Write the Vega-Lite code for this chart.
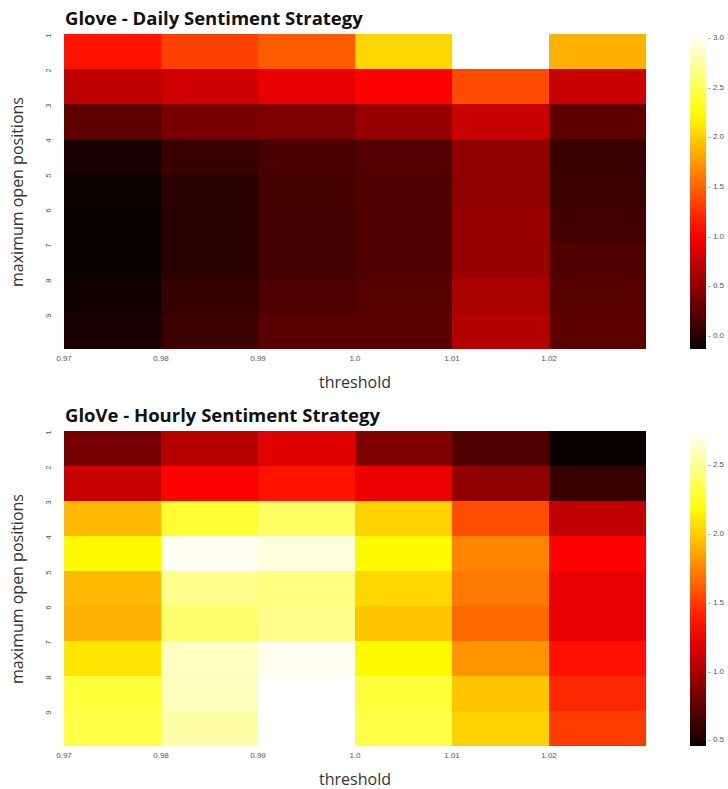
{
  "$schema": "https://vega.github.io/schema/vega-lite/v6.json",
  "background": "white",
  "padding": {"left": 9, "top": 10, "right": 5, "bottom": 3},
  "spacing": 17,
  "config": {
    "view": {"stroke": null},
    "axis": {
      "domain": false,
      "ticks": false,
      "grid": false,
      "labelFont": "Liberation Sans",
      "labelFontSize": 8,
      "labelColor": "#555555",
      "titleFont": "Open Sans",
      "titleFontSize": 16,
      "titleFontWeight": "normal",
      "titleColor": "#333333"
    },
    "legend": {
      "labelFont": "Liberation Sans",
      "labelFontSize": 8,
      "labelColor": "#555555"
    },
    "title": {
      "font": "Open Sans",
      "fontSize": 18.5,
      "fontWeight": "bold",
      "color": "#111111",
      "anchor": "start",
      "frame": "group",
      "offset": 4
    }
  },
  "datasets": {
    "daily": [
      {"threshold": "0.97", "positions": "1", "value": 1.11}, {"threshold": "0.98", "positions": "1", "value": 1.33}, {"threshold": "0.99", "positions": "1", "value": 1.46}, {"threshold": "1.0", "positions": "1", "value": 2.04}, {"threshold": "1.01", "positions": "1", "value": 3.04}, {"threshold": "1.02", "positions": "1", "value": 1.86},
      {"threshold": "0.97", "positions": "2", "value": 0.72}, {"threshold": "0.98", "positions": "2", "value": 0.8}, {"threshold": "0.99", "positions": "2", "value": 0.91}, {"threshold": "1.0", "positions": "2", "value": 1.03}, {"threshold": "1.01", "positions": "2", "value": 1.38}, {"threshold": "1.02", "positions": "2", "value": 0.77},
      {"threshold": "0.97", "positions": "3", "value": 0.27}, {"threshold": "0.98", "positions": "3", "value": 0.39}, {"threshold": "0.99", "positions": "3", "value": 0.42}, {"threshold": "1.0", "positions": "3", "value": 0.54}, {"threshold": "1.01", "positions": "3", "value": 0.77}, {"threshold": "1.02", "positions": "3", "value": 0.27},
      {"threshold": "0.97", "positions": "4", "value": -0.06}, {"threshold": "0.98", "positions": "4", "value": 0.09}, {"threshold": "0.99", "positions": "4", "value": 0.17}, {"threshold": "1.0", "positions": "4", "value": 0.21}, {"threshold": "1.01", "positions": "4", "value": 0.5}, {"threshold": "1.02", "positions": "4", "value": 0.09},
      {"threshold": "0.97", "positions": "5", "value": -0.12}, {"threshold": "0.98", "positions": "5", "value": 0.02}, {"threshold": "0.99", "positions": "5", "value": 0.15}, {"threshold": "1.0", "positions": "5", "value": 0.2}, {"threshold": "1.01", "positions": "5", "value": 0.48}, {"threshold": "1.02", "positions": "5", "value": 0.1},
      {"threshold": "0.97", "positions": "6", "value": -0.13}, {"threshold": "0.98", "positions": "6", "value": 0.02}, {"threshold": "0.99", "positions": "6", "value": 0.14}, {"threshold": "1.0", "positions": "6", "value": 0.2}, {"threshold": "1.01", "positions": "6", "value": 0.54}, {"threshold": "1.02", "positions": "6", "value": 0.13},
      {"threshold": "0.97", "positions": "7", "value": -0.13}, {"threshold": "0.98", "positions": "7", "value": 0.02}, {"threshold": "0.99", "positions": "7", "value": 0.14}, {"threshold": "1.0", "positions": "7", "value": 0.2}, {"threshold": "1.01", "positions": "7", "value": 0.54}, {"threshold": "1.02", "positions": "7", "value": 0.2},
      {"threshold": "0.97", "positions": "8", "value": -0.1}, {"threshold": "0.98", "positions": "8", "value": 0.07}, {"threshold": "0.99", "positions": "8", "value": 0.19}, {"threshold": "1.0", "positions": "8", "value": 0.23}, {"threshold": "1.01", "positions": "8", "value": 0.62}, {"threshold": "1.02", "positions": "8", "value": 0.23},
      {"threshold": "0.97", "positions": "9", "value": -0.07}, {"threshold": "0.98", "positions": "9", "value": 0.1}, {"threshold": "0.99", "positions": "9", "value": 0.25}, {"threshold": "1.0", "positions": "9", "value": 0.25}, {"threshold": "1.01", "positions": "9", "value": 0.67}, {"threshold": "1.02", "positions": "9", "value": 0.26}
    ],
    "hourly": [
      {"threshold": "0.97", "positions": "1", "value": 0.83}, {"threshold": "0.98", "positions": "1", "value": 1.05}, {"threshold": "0.99", "positions": "1", "value": 1.19}, {"threshold": "1.0", "positions": "1", "value": 0.86}, {"threshold": "1.01", "positions": "1", "value": 0.7}, {"threshold": "1.02", "positions": "1", "value": 0.46},
      {"threshold": "0.97", "positions": "2", "value": 1.11}, {"threshold": "0.98", "positions": "2", "value": 1.3}, {"threshold": "0.99", "positions": "2", "value": 1.36}, {"threshold": "1.0", "positions": "2", "value": 1.23}, {"threshold": "1.01", "positions": "2", "value": 0.92}, {"threshold": "1.02", "positions": "2", "value": 0.62},
      {"threshold": "0.97", "positions": "3", "value": 1.93}, {"threshold": "0.98", "positions": "3", "value": 2.28}, {"threshold": "0.99", "positions": "3", "value": 2.39}, {"threshold": "1.0", "positions": "3", "value": 2.01}, {"threshold": "1.01", "positions": "3", "value": 1.56}, {"threshold": "1.02", "positions": "3", "value": 1.08},
      {"threshold": "0.97", "positions": "4", "value": 2.15}, {"threshold": "0.98", "positions": "4", "value": 2.72}, {"threshold": "0.99", "positions": "4", "value": 2.67}, {"threshold": "1.0", "positions": "4", "value": 2.15}, {"threshold": "1.01", "positions": "4", "value": 1.75}, {"threshold": "1.02", "positions": "4", "value": 1.3},
      {"threshold": "0.97", "positions": "5", "value": 1.93}, {"threshold": "0.98", "positions": "5", "value": 2.48}, {"threshold": "0.99", "positions": "5", "value": 2.46}, {"threshold": "1.0", "positions": "5", "value": 2.03}, {"threshold": "1.01", "positions": "5", "value": 1.71}, {"threshold": "1.02", "positions": "5", "value": 1.22},
      {"threshold": "0.97", "positions": "6", "value": 1.9}, {"threshold": "0.98", "positions": "6", "value": 2.42}, {"threshold": "0.99", "positions": "6", "value": 2.48}, {"threshold": "1.0", "positions": "6", "value": 1.97}, {"threshold": "1.01", "positions": "6", "value": 1.66}, {"threshold": "1.02", "positions": "6", "value": 1.22},
      {"threshold": "0.97", "positions": "7", "value": 2.08}, {"threshold": "0.98", "positions": "7", "value": 2.61}, {"threshold": "0.99", "positions": "7", "value": 2.71}, {"threshold": "1.0", "positions": "7", "value": 2.15}, {"threshold": "1.01", "positions": "7", "value": 1.8}, {"threshold": "1.02", "positions": "7", "value": 1.35},
      {"threshold": "0.97", "positions": "8", "value": 2.3}, {"threshold": "0.98", "positions": "8", "value": 2.6}, {"threshold": "0.99", "positions": "8", "value": 2.75}, {"threshold": "1.0", "positions": "8", "value": 2.3}, {"threshold": "1.01", "positions": "8", "value": 1.97}, {"threshold": "1.02", "positions": "8", "value": 1.43},
      {"threshold": "0.97", "positions": "9", "value": 2.33}, {"threshold": "0.98", "positions": "9", "value": 2.55}, {"threshold": "0.99", "positions": "9", "value": 2.75}, {"threshold": "1.0", "positions": "9", "value": 2.33}, {"threshold": "1.01", "positions": "9", "value": 2.01}, {"threshold": "1.02", "positions": "9", "value": 1.5}
    ]
  },
  "resolve": {"scale": {"color": "independent"}, "legend": {"color": "independent"}},
  "vconcat": [
    {
      "title": {"text": "Glove - Daily Sentiment Strategy", "dx": 3},
      "width": 585,
      "height": 315,
      "data": {"name": "daily"},
      "mark": {"type": "rect", "strokeWidth": 0},
      "encoding": {
        "x": {
          "field": "threshold", "type": "ordinal",
          "sort": ["0.97", "0.98", "0.99", "1.0", "1.01", "1.02"],
          "scale": {"paddingInner": 0, "paddingOuter": 0, "round": true},
          "axis": {"title": "threshold", "labelAngle": 0, "labelOffset": -48.5, "labelPadding": 5, "titlePadding": 12}
        },
        "y": {
          "field": "positions", "type": "ordinal",
          "sort": ["1", "2", "3", "4", "5", "6", "7", "8", "9"],
          "scale": {"paddingInner": 0, "paddingOuter": 0},
          "axis": {"title": "maximum open positions", "labelAngle": 270, "labelAlign": "center", "labelBaseline": "middle", "labelOffset": -16, "labelPadding": 14, "titlePadding": 19}
        },
        "color": {
          "field": "value", "type": "quantitative",
          "scale": {"type": "linear", "domain": [-0.13, 1.027, 2.235, 3.04], "range": ["#0b0000", "#ff0000", "#ffff00", "#ffffff"], "interpolate": "rgb"},
          "legend": {
            "title": null, "orient": "right", "offset": 43,
            "gradientLength": 315, "gradientThickness": 16, "gradientStrokeWidth": 0,
            "values": [0, 0.5, 1, 1.5, 2, 2.5, 3], "format": ".1f",
            "labelExpr": "'- ' + datum.label", "labelOffset": 2
          }
        }
      }
    },
    {
      "title": {"text": "GloVe - Hourly Sentiment Strategy", "dx": 3},
      "width": 585,
      "height": 315,
      "data": {"name": "hourly"},
      "mark": {"type": "rect", "strokeWidth": 0},
      "encoding": {
        "x": {
          "field": "threshold", "type": "ordinal",
          "sort": ["0.97", "0.98", "0.99", "1.0", "1.01", "1.02"],
          "scale": {"paddingInner": 0, "paddingOuter": 0, "round": true},
          "axis": {"title": "threshold", "labelAngle": 0, "labelOffset": -48.5, "labelPadding": 5, "titlePadding": 12}
        },
        "y": {
          "field": "positions", "type": "ordinal",
          "sort": ["1", "2", "3", "4", "5", "6", "7", "8", "9"],
          "scale": {"paddingInner": 0, "paddingOuter": 0},
          "axis": {"title": "maximum open positions", "labelAngle": 270, "labelAlign": "center", "labelBaseline": "middle", "labelOffset": -16, "labelPadding": 14, "titlePadding": 19}
        },
        "color": {
          "field": "value", "type": "quantitative",
          "scale": {"type": "linear", "domain": [0.46, 1.296, 2.168, 2.75], "range": ["#0b0000", "#ff0000", "#ffff00", "#ffffff"], "interpolate": "rgb"},
          "legend": {
            "title": null, "orient": "right", "offset": 43,
            "gradientLength": 315, "gradientThickness": 16, "gradientStrokeWidth": 0,
            "values": [0.5, 1, 1.5, 2, 2.5], "format": ".1f",
            "labelExpr": "'- ' + datum.label", "labelOffset": 2
          }
        }
      }
    }
  ]
}
